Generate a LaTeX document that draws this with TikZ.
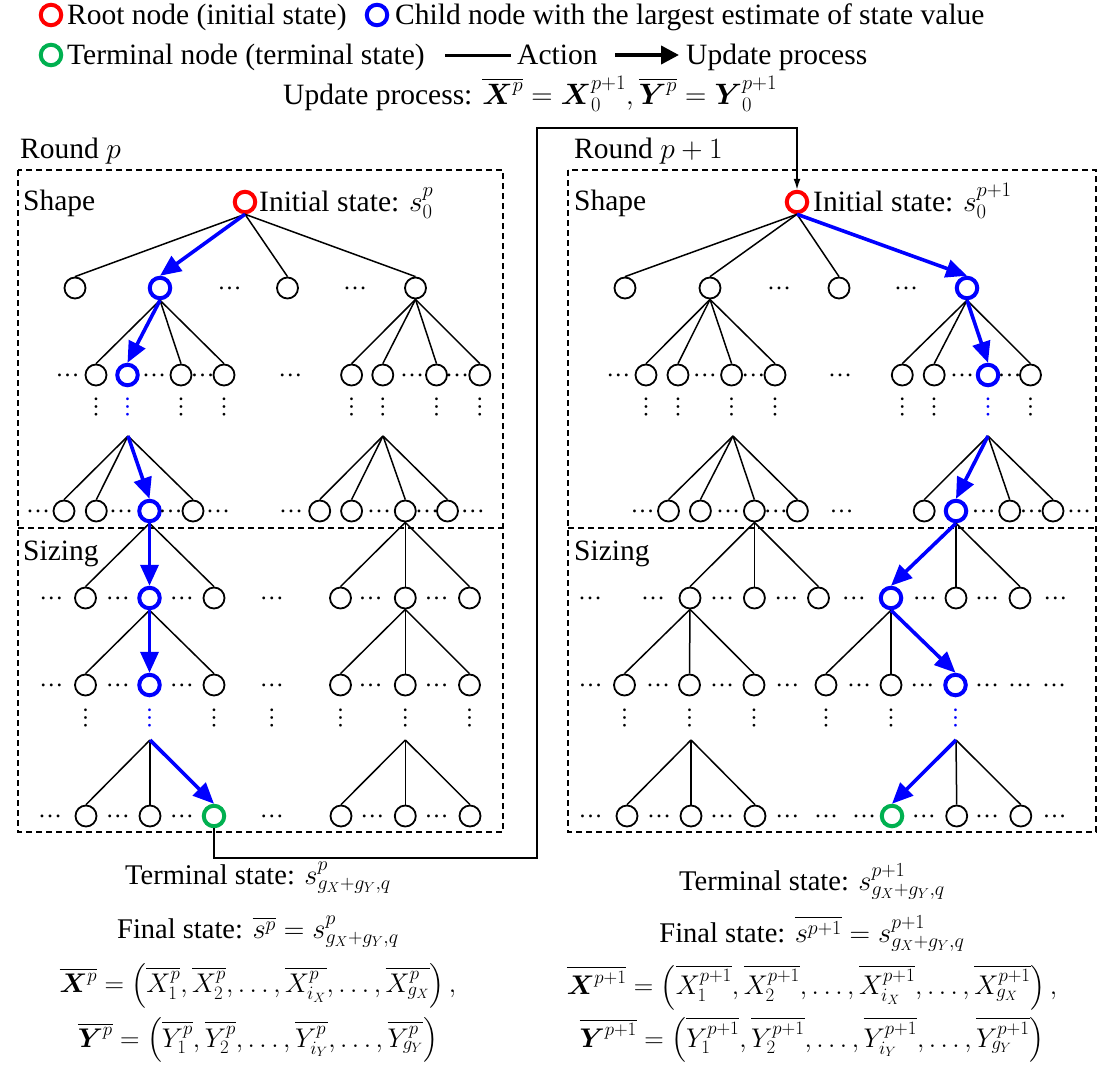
\RequirePackage{fix-cm}
\documentclass[tikz,border=0pt]{standalone}
\usepackage{amsmath}
\usepackage{fontspec}
\setmainfont{Liberation Serif}
\usetikzlibrary{arrows.meta}
\definecolor{tgreen}{RGB}{0,176,80}
\definecolor{tblue}{RGB}{0,0,255}
\definecolor{tred}{RGB}{255,0,0}
\newcommand{\stackc}[2]{\vbox{\baselineskip=#1\lineskiplimit=-200pt\lineskip=0pt\halign{\hfil##\hfil\cr#2\crcr}}}
\newcommand{\sttxt}{\fontsize{28.5}{30}\selectfont}
\newcommand{\eqtxt}{\fontsize{27}{30}\selectfont}
\tikzset{
  every node/.style={font=\fontsize{29.5}{35}\selectfont, inner sep=0pt},
  nd/.style={circle, draw, line width=1.8pt, minimum size=21pt},
  bnd/.style={circle, draw=tblue, line width=4pt, minimum size=20.5pt},
  rnd/.style={circle, draw=tred, line width=4pt, minimum size=20.5pt},
  gnd/.style={circle, draw=tgreen, line width=4pt, minimum size=20.5pt},
  edge/.style={line width=1.5pt},
  barrow/.style={draw=tblue, line width=3.6pt, -{Triangle[length=21pt,width=18pt]}},
  karrow/.style={draw=black, line width=4pt, -{Triangle[length=18pt,width=18pt]}},
  conn/.style={line width=1.6pt, -{Latex[length=11pt,width=7pt]}},
  hd/.style={font=\fontsize{24}{25}\selectfont},
  vd/.style={font=\fontsize{23}{25}\selectfont, rotate=90},
  dbox/.style={line width=1.6pt, dash pattern=on 6pt off 4pt},
}
\begin{document}
\begin{tikzpicture}[x=1pt,y=-1pt]
\useasboundingbox (0,0) rectangle (1099,1074);
% ---------------- legend ----------------
\node[rnd] (lg1) at (51,15) {};
\node[anchor=base west] (lt1) at (67,24) {Root node (initial state)};
\node[bnd] (lg2) at (377,15) {};
\node[anchor=base west] (lt2) at (395,24) {Child node with the largest estimate of state value};
\node[gnd] (lg3) at (51,55) {};
\node[anchor=base west] (lt3) at (67,64) {Terminal node (terminal state)};
\coordinate (la1) at (445,55); \coordinate (la2) at (511,55);
\draw[line width=3pt] (la1) -- (la2);
\node[anchor=base west] (lt4) at (517,64) {Action};
\coordinate (lb1) at (615,55); \coordinate (lb2) at (679,55);
\draw[karrow] (lb1) -- (lb2);
\node[anchor=base west] (lt5) at (686,64) {Update process};
\node[anchor=base west] (upd) at (283,104) {Update process: $\overline{\boldsymbol{X}^{p}}=\boldsymbol{X}_{0}^{p+1},\overline{\boldsymbol{Y}^{p}}=\boldsymbol{Y}_{0}^{p+1}$};
% ---------------- boxes ----------------
\node[anchor=base west] (rl) at (20,158) {Round $p$};
\node[anchor=base west] (rr) at (574,158) {Round $p+1$};
\draw[dbox] (18,170) rectangle (503,832);
\draw[dbox] (18,528) -- (503,528);
\draw[dbox] (568,170) rectangle (1096,832);
\draw[dbox] (568,528) -- (1096,528);
\node[anchor=base west] (sl) at (23,210) {Shape};
\node[anchor=base west] (sr) at (574,210) {Shape};
\node[anchor=base west] (zl) at (23,560) {Sizing};
\node[anchor=base west] (zr) at (574,560) {Sizing};
% ================= LEFT TREE =================
\node[rnd] (Lr) at (245,202) {};
\node[anchor=base west] (Lrt) at (259,211) {Initial state: $s_{0}^{p}$};
\node[nd] (La1) at (75,288) {};
\node[bnd] (La2) at (160,288) {};
\node[nd] (La3) at (287.5,288) {};
\node[nd] (La4) at (415.5,288) {};
\foreach \x in {229.7,355} \node[hd] at (\x,288) {…};
\node[nd] (Lb1) at (96,375) {};
\node[bnd] (Lb2) at (127.5,375) {};
\node[nd] (Lb3) at (181,375) {};
\node[nd] (Lb4) at (224,375) {};
\node[nd] (Lb5) at (351.6,375) {};
\node[nd] (Lb6) at (382.8,375) {};
\node[nd] (Lb7) at (436.5,375) {};
\node[nd] (Lb8) at (479.8,375) {};
\foreach \x in {67.5,154,202.6,290.3,412,457} \node[hd] at (\x,375) {…};
\foreach \x in {96,181,224,351.6,382.8,436.5,479.8} \node[vd] at (\x,407) {…};
\node[vd,text=tblue] at (127.5,407) {…};
\coordinate (Lp1) at (128,436);
\coordinate (Lp2) at (383,436);
\node[nd] (Lc1) at (64,511) {};
\node[nd] (Lc2) at (96.3,511) {};
\node[bnd] (Lc3) at (149.5,511) {};
\node[nd] (Lc4) at (193,511) {};
\node[nd] (Lc5) at (319.7,511) {};
\node[nd] (Lc6) at (351.6,511) {};
\node[nd] (Lc7) at (405.3,511) {};
\node[nd] (Lc8) at (447.5,511) {};
\foreach \x in {38,121,170.5,218.2,291,379,427,472.8} \node[hd] at (\x,511) {…};
\node[nd] (Ld1) at (85.5,598) {};
\node[bnd] (Ld2) at (149.5,598) {};
\node[nd] (Ld3) at (214,598) {};
\node[nd] (Ld4) at (340.5,598) {};
\node[nd] (Ld5) at (405.3,598) {};
\node[nd] (Ld6) at (469.5,598) {};
\foreach \x in {51.3,117.8,181.8,271.9,370.6,436.5} \node[hd] at (\x,598) {…};
\node[nd] (Le1) at (85.5,685) {};
\node[bnd] (Le2) at (149.5,685) {};
\node[nd] (Le3) at (214,685) {};
\node[nd] (Le4) at (340.5,685) {};
\node[nd] (Le5) at (405.3,685) {};
\node[nd] (Le6) at (469.5,685) {};
\foreach \x in {51.3,117.8,181.8,271.9,370.6,436.5} \node[hd] at (\x,685) {…};
\foreach \x in {85.5,214,271.9,340.5,405.3,469.5} \node[vd] at (\x,718) {…};
\node[vd,text=tblue] at (149.5,718) {…};
\coordinate (Lq1) at (150,740);
\coordinate (Lq2) at (405.3,740);
\node[nd] (Lf1) at (86,816) {};
\node[nd] (Lf2) at (150,816) {};
\node[gnd] (Lf3) at (214,816) {};
\node[nd] (Lf4) at (341,816) {};
\node[nd] (Lf5) at (405.3,816) {};
\node[nd] (Lf6) at (470,816) {};
\foreach \x in {50.2,117.8,181.8,271.9,372.3,436.5} \node[hd] at (\x,816) {…};
% left edges
\foreach \n in {La1,La3,La4} \draw[edge] (Lr.south) -- (\n.north);
\draw[barrow] (Lr.south) -- (La2.north);
\foreach \n in {Lb1,Lb3,Lb4} \draw[edge] (La2.south) -- (\n.north);
\draw[barrow] (La2.south) -- (Lb2.north);
\foreach \n in {Lb5,Lb6,Lb7,Lb8} \draw[edge] (La4.south) -- (\n.north);
\foreach \n in {Lc1,Lc2,Lc4} \draw[edge] (Lp1) -- (\n.north);
\draw[barrow] (Lp1) -- (Lc3.north);
\foreach \n in {Lc5,Lc6,Lc7,Lc8} \draw[edge] (Lp2) -- (\n.north);
\foreach \n in {Ld1,Ld3} \draw[edge] (Lc3.south) -- (\n.north);
\draw[barrow] (Lc3.south) -- (Ld2.north);
\foreach \n in {Ld4,Ld5,Ld6} \draw[edge] (Lc7.south) -- (\n.north);
\foreach \n in {Le1,Le3} \draw[edge] (Ld2.south) -- (\n.north);
\draw[barrow] (Ld2.south) -- (Le2.north);
\foreach \n in {Le4,Le5,Le6} \draw[edge] (Ld5.south) -- (\n.north);
\foreach \n in {Lf1,Lf2} \draw[edge] (Lq1) -- (\n.north);
\draw[barrow] (Lq1) -- (Lf3.north);
\foreach \n in {Lf4,Lf5,Lf6} \draw[edge] (Lq2) -- (\n.north);
% ================= RIGHT TREE =================
\node[rnd] (Rr) at (797,202) {};
\node[anchor=base west] (Rrt) at (813,211) {Initial state: $s_{0}^{p+1}$};
\node[nd] (Ra1) at (625,288) {};
\node[nd] (Ra2) at (710,288) {};
\node[nd] (Ra3) at (839,288) {};
\node[bnd] (Ra4) at (967,288) {};
\foreach \x in {779,906} \node[hd] at (\x,288) {…};
\node[nd] (Rb1) at (646,375) {};
\node[nd] (Rb2) at (678,375) {};
\node[nd] (Rb3) at (731.6,375) {};
\node[nd] (Rb4) at (775,375) {};
\node[nd] (Rb5) at (902.3,375) {};
\node[nd] (Rb6) at (934.2,375) {};
\node[bnd] (Rb7) at (988,375) {};
\node[nd] (Rb8) at (1030.5,375) {};
\foreach \x in {618.3,704.9,753.4,840,962,1009.7} \node[hd] at (\x,375) {…};
\foreach \x in {646,678,731.6,775,902.3,934.2,1030.5} \node[vd] at (\x,407) {…};
\node[vd,text=tblue] at (988,407) {…};
\coordinate (Rp1) at (733,436);
\coordinate (Rp2) at (988,436);
\node[nd] (Rc1) at (668.5,511) {};
\node[nd] (Rc2) at (700.4,511) {};
\node[nd] (Rc3) at (754.4,511) {};
\node[nd] (Rc4) at (797.4,511) {};
\node[nd] (Rc5) at (924.2,511) {};
\node[bnd] (Rc6) at (956,511) {};
\node[nd] (Rc7) at (1009.7,511) {};
\node[nd] (Rc8) at (1053,511) {};
\foreach \x in {642.5,728,775.9,841.7,983.7,1031.5,1079} \node[hd] at (\x,511) {…};
\node[nd] (Rd1) at (690,598) {};
\node[nd] (Rd2) at (754.4,598) {};
\node[nd] (Rd3) at (818.5,598) {};
\node[bnd] (Rd4) at (891,598) {};
\node[nd] (Rd5) at (956,598) {};
\node[nd] (Rd6) at (1020,598) {};
\foreach \x in {590,653,722.2,786.3,853.8,924.9,987.2,1055.4} \node[hd] at (\x,598) {…};
\node[nd] (Re1) at (624.5,685) {};
\node[nd] (Re2) at (689.5,685) {};
\node[nd] (Re3) at (754,685) {};
\node[nd] (Re4) at (826,685) {};
\node[nd] (Re5) at (891,685) {};
\node[bnd] (Re6) at (955.5,685) {};
\foreach \x in {590.6,658.1,722.2,787.3,859,922.4,987.2,1020.1,1054} \node[hd] at (\x,685) {…};
\foreach \x in {624.5,689.5,754,826,891} \node[vd] at (\x,718) {…};
\node[vd,text=tblue] at (955.5,718) {…};
\coordinate (Rq1) at (691,740);
\coordinate (Rq2) at (956,740);
\node[nd] (Rf1) at (627,816) {};
\node[nd] (Rf2) at (691,816) {};
\node[nd] (Rf3) at (755,816) {};
\node[gnd] (Rf4) at (892,816) {};
\node[nd] (Rf5) at (956.7,816) {};
\node[nd] (Rf6) at (1020.8,816) {};
\foreach \x in {590.6,659.2,722.2,787.3,826.1,864.2,923.8,987.2,1054.7} \node[hd] at (\x,816) {…};
% right edges
\foreach \n in {Ra1,Ra2,Ra3} \draw[edge] (Rr.south) -- (\n.north);
\draw[barrow] (Rr.south) -- (Ra4.north);
\foreach \n in {Rb1,Rb2,Rb3,Rb4} \draw[edge] (Ra2.south) -- (\n.north);
\foreach \n in {Rb5,Rb6,Rb8} \draw[edge] (Ra4.south) -- (\n.north);
\draw[barrow] (Ra4.south) -- (Rb7.north);
\foreach \n in {Rc1,Rc2,Rc3,Rc4} \draw[edge] (Rp1) -- (\n.north);
\foreach \n in {Rc5,Rc7,Rc8} \draw[edge] (Rp2) -- (\n.north);
\draw[barrow] (Rp2) -- (Rc6.north);
\foreach \n in {Rd1,Rd2,Rd3} \draw[edge] (Rc3.south) -- (\n.north);
\foreach \n in {Rd5,Rd6} \draw[edge] (Rc6.south) -- (\n.north);
\draw[barrow] (Rc6.south) -- (Rd4.north);
\foreach \n in {Re1,Re2,Re3} \draw[edge] (Rd1.south) -- (\n.north);
\foreach \n in {Re4,Re5} \draw[edge] (Rd4.south) -- (\n.north);
\draw[barrow] (Rd4.south) -- (Re6.north);
\foreach \n in {Rf1,Rf2,Rf3} \draw[edge] (Rq1) -- (\n.north);
\foreach \n in {Rf5,Rf6} \draw[edge] (Rq2) -- (\n.north);
\draw[barrow] (Rq2) -- (Rf4.north);
% ---------------- update connector ----------------
\coordinate (c2) at (537,858);
\coordinate (c3) at (537,128);
\draw[conn] (Lf3.south) |- (c2) -- (c3) -| (Rr.north);
% ---------------- bottom texts ----------------
\node[anchor=base] (bl) at (258,1047) {\stackc{54.3pt}{%
{\sttxt Terminal state: $s^{p}_{g_X+g_Y,q}$}\cr
{\sttxt Final state: $\overline{s^{p}}=s^{p}_{g_X+g_Y,q}$}\cr
{\eqtxt $\overline{\boldsymbol{X}^{p}}=\left(\overline{X^{p}_{1}},\overline{X^{p}_{2}},\dots,\overline{X^{p}_{i_X}},\dots,\overline{X^{p}_{g_X}}\right),$}\cr
{\eqtxt $\overline{\boldsymbol{Y}^{p}}=\left(\overline{Y^{p}_{1}},\overline{Y^{p}_{2}},\dots,\overline{Y^{p}_{i_Y}},\dots,\overline{Y^{p}_{g_Y}}\right)$}}};
\node[anchor=base] (br) at (812,1047) {\stackc{52.3pt}{%
{\sttxt Terminal state: $s^{p+1}_{g_X+g_Y,q}$}\cr
{\sttxt Final state: $\overline{s^{p+1}}=s^{p+1}_{g_X+g_Y,q}$}\cr
{\eqtxt $\overline{\boldsymbol{X}^{p+1}}=\left(\overline{X^{p+1}_{1}},\overline{X^{p+1}_{2}},\dots,\overline{X^{p+1}_{i_X}},\dots,\overline{X^{p+1}_{g_X}}\right),$}\cr
{\eqtxt $\overline{\boldsymbol{Y}^{p+1}}=\left(\overline{Y^{p+1}_{1}},\overline{Y^{p+1}_{2}},\dots,\overline{Y^{p+1}_{i_Y}},\dots,\overline{Y^{p+1}_{g_Y}}\right)$}}};
\end{tikzpicture}
\end{document}
